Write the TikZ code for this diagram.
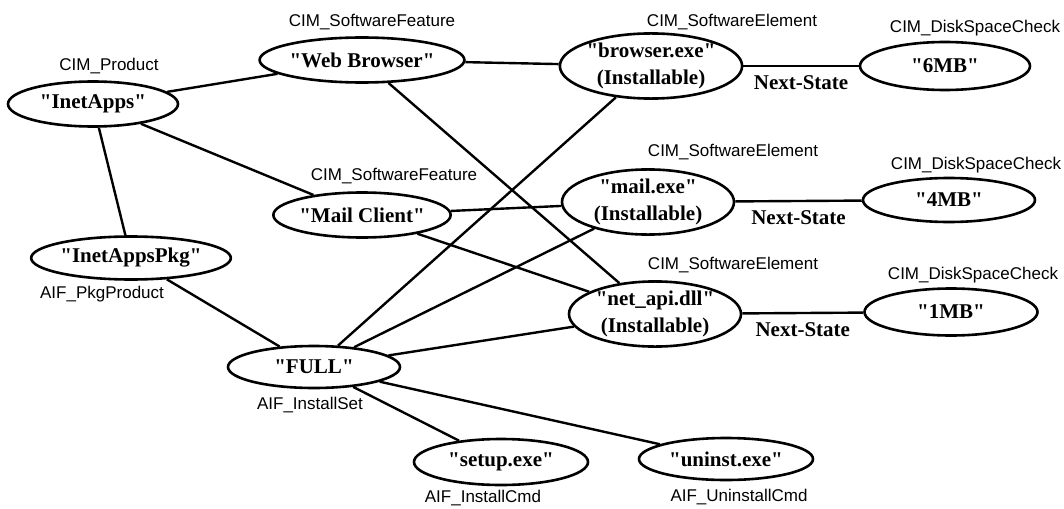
\documentclass[tikz,border=0pt]{standalone}
\usepackage{fontspec}
\setmainfont{Liberation Serif}[Ligatures=TeXOff]
\setsansfont{Liberation Sans}
\usetikzlibrary{shapes.geometric}
\begin{document}
\begin{tikzpicture}[x=0.5pt,y=-0.5pt,
  obj/.style={ellipse, draw, line width=1.3pt, inner sep=0pt, minimum width=86pt, minimum height=22.5pt,
    font=\fontsize{10.5}{13.5}\selectfont\bfseries, align=center},
  elem/.style={obj, minimum height=31pt},
  cls/.style={font=\fontsize{8.5}{10}\selectfont\sffamily, inner sep=0pt},
  conn/.style={line width=1.2pt},
  ns/.style={font=\fontsize{10.5}{12}\selectfont\bfseries, inner sep=0pt, below=4pt, midway}]
\useasboundingbox (0,0) rectangle (1064,508);
% nodes
\node[obj, minimum width=85pt] (inet) at (93,104) {"InetApps"};
\node[obj, minimum width=85pt] (web) at (362,60) {"Web Browser"};
\node[obj] (mailc) at (362,215) {"Mail Client"};
\node[obj, minimum width=81pt, minimum height=21.5pt] (pkg) at (131,258) {"InetAppsPkg"};
\node[obj, minimum height=21pt] (full) at (314,367) {"FULL"};
\node[obj, minimum width=87pt, minimum height=23pt] (setup) at (501,462) {"setup.exe"};
\node[obj, minimum width=87pt, minimum height=21pt] (uninst) at (726,459) {"uninst.exe"};
\node[elem, minimum height=32pt] (browser) at (651,66) {"browser.exe"\\(Installable)};
\node[elem, minimum height=29.5pt] (mailexe) at (648,202) {"mail.exe"\\(Installable)};
\node[elem, minimum height=32pt] (netapi) at (655,314) {"net\_api.dll"\\(Installable)};
\node[obj, minimum width=85pt, minimum height=24pt] (mb6) at (945,66) {"6MB"};
\node[obj, minimum height=22pt] (mb4) at (949,200) {"4MB"};
\node[obj, minimum width=86.5pt, minimum height=23.5pt] (mb1) at (951,312) {"1MB"};
% class labels
\node[cls] (l1) at (109,66) {CIM\_Product};
\node[cls] (l2) at (372,22) {CIM\_SoftwareFeature};
\node[cls] (l3) at (394,176) {CIM\_SoftwareFeature};
\node[cls] (l4) at (732,22) {CIM\_SoftwareElement};
\node[cls] (l5) at (733,152) {CIM\_SoftwareElement};
\node[cls] (l6) at (733,265) {CIM\_SoftwareElement};
\node[cls] (l7) at (975,28) {CIM\_DiskSpaceCheck};
\node[cls] (l8) at (976,165) {CIM\_DiskSpaceCheck};
\node[cls] (l9) at (973,275) {CIM\_DiskSpaceCheck};
\node[cls] (l10) at (102,294) {AIF\_PkgProduct};
\node[cls] (l11) at (310,405) {AIF\_InstallSet};
\node[cls] (l12) at (483,498) {AIF\_InstallCmd};
\node[cls] (l13) at (739,497) {AIF\_UninstallCmd};
% connectors
\draw[conn] (inet) -- (web);
\draw[conn] (inet) -- (mailc);
\draw[conn] (inet) -- (pkg);
\draw[conn] (web) -- (browser);
\draw[conn] (web) -- (netapi);
\draw[conn] (mailc) -- (mailexe);
\draw[conn] (mailc) -- (netapi);
\draw[conn] (pkg) -- (full);
\draw[conn] (full) -- (browser);
\draw[conn] (full) -- (mailexe);
\draw[conn] (full) -- (netapi);
\draw[conn] (full) -- (setup);
\draw[conn] (full) -- (uninst);
\draw[conn] (browser) -- node[ns] (n1) {Next-State} (mb6);
\draw[conn] (mailexe) -- node[ns] (n2) {Next-State} (mb4);
\draw[conn] (netapi) -- node[ns] (n3) {Next-State} (mb1);
\end{tikzpicture}
\end{document}
